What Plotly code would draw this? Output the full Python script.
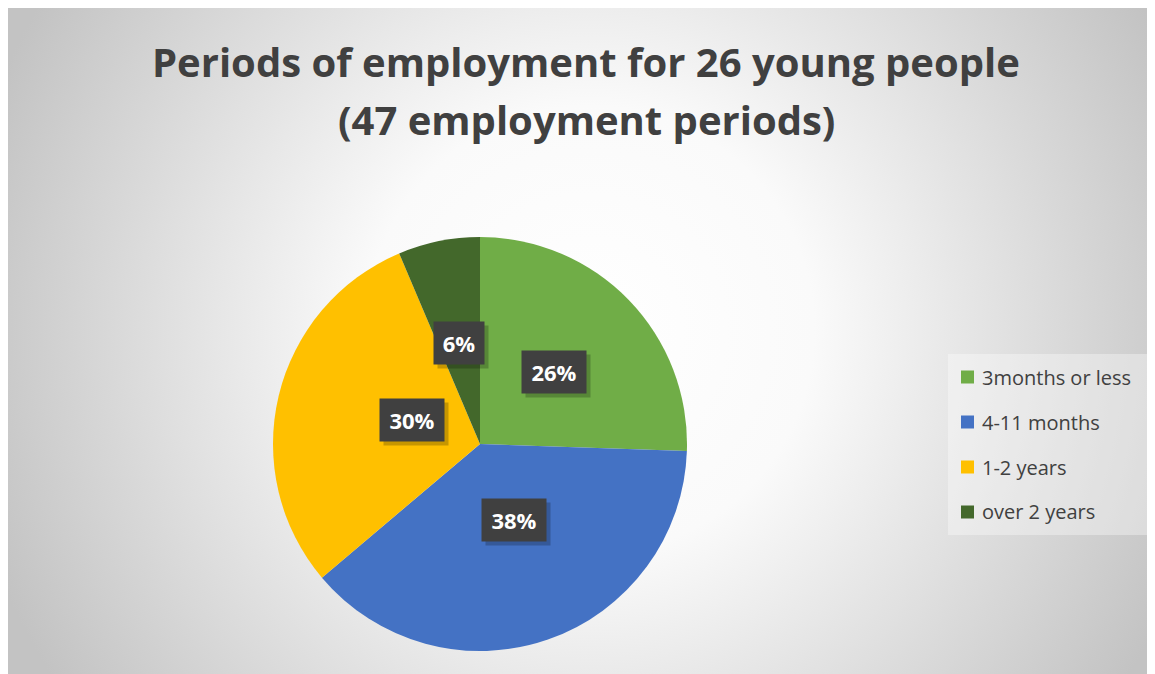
import math
import base64
import plotly.graph_objects as go

# ---------------- data ----------------
categories = ["3months or less", "4-11 months", "1-2 years", "over 2 years"]
periods = [12, 18, 14, 3]          # 47 employment periods in total
colors = ["#70AD47", "#4472C4", "#FFC000", "#43682B"]
title_lines = ["Periods of employment for 26 young people", "(47 employment periods)"]

W, H = 1155, 674
OFF = 8  # page body margin offset

# pie geometry (screen pixels)
cx_px, cy_px, R_px = 480, 444, 207

def px(x):
    return (x - OFF) / W

def py(y):
    return 1 - (y - OFF) / H

fig = go.Figure()

fig.add_trace(go.Pie(
    labels=categories,
    values=periods,
    marker=dict(colors=colors, line=dict(width=0)),
    sort=False,
    direction="clockwise",
    rotation=0,
    textinfo="none",
    showlegend=False,
    domain=dict(x=[px(cx_px - R_px), px(cx_px + R_px)],
                y=[py(cy_px + R_px), py(cy_px - R_px)]),
))

# background radial gradient
svg = f'''<svg xmlns="http://www.w3.org/2000/svg" width="{W}" height="{H}" viewBox="0 0 {W} {H}">
<defs><radialGradient id="g" gradientUnits="userSpaceOnUse" cx="582" cy="322" r="640">
<stop offset="0" stop-color="#ffffff"/><stop offset="0.35" stop-color="#fafafa"/>
<stop offset="1" stop-color="#c3c3c3"/></radialGradient></defs>
<rect x="0" y="0" width="{W}" height="{H}" fill="url(#g)"/></svg>'''
src = "data:image/svg+xml;base64," + base64.b64encode(svg.encode()).decode()
fig.add_layout_image(dict(source=src, xref="paper", yref="paper",
                          x=0, y=1, sizex=1, sizey=1,
                          sizing="stretch", xanchor="left", yanchor="top", layer="below"))

annotations = []
shapes = []

# title
for i, line in enumerate(title_lines):
    annotations.append(dict(text=f"<b>{line}</b>", x=px(586), y=py(62 + i * 58),
                            xref="paper", yref="paper", showarrow=False,
                            font=dict(family="Open Sans", size=40, color="#404040"),
                            xanchor="center", yanchor="middle"))

# percentage labels with dark boxes
total = sum(periods)
cum = 0
for v in periods:
    mid = (cum + v / 2) / total * 2 * math.pi
    cum += v
    lx = cx_px + 0.5 * R_px * math.sin(mid)
    ly = cy_px - 0.5 * R_px * math.cos(mid)
    pct = f"{round(100 * v / total)}%"
    wbox = 48 if len(pct) == 3 else 34
    annotations.append(dict(text=" ", x=px(lx + 4), y=py(ly + 4), xref="paper", yref="paper",
                            showarrow=False, bgcolor="rgba(0,0,0,0.22)", width=wbox, height=26,
                            borderpad=8, font=dict(size=22)))
    annotations.append(dict(text=f"<b>{pct}</b>", x=px(lx), y=py(ly), xref="paper", yref="paper",
                            showarrow=False, bgcolor="#404040", width=wbox, height=26,
                            borderpad=8, font=dict(family="Open Sans", size=22, color="white")))

# legend box
shapes.append(dict(type="rect", xref="paper", yref="paper",
                   x0=px(948), x1=px(1147), y0=py(535), y1=py(354),
                   fillcolor="rgba(255,255,255,0.35)", line=dict(width=0), layer="below"))
for i, (cat, col) in enumerate(zip(categories, colors)):
    yc = 377 + i * 45
    shapes.append(dict(type="rect", xref="paper", yref="paper",
                       x0=px(961), x1=px(974), y0=py(yc + 6.5), y1=py(yc - 6.5),
                       fillcolor=col, line=dict(width=0)))
    annotations.append(dict(text=cat, x=px(980), y=py(yc), xref="paper", yref="paper",
                            showarrow=False, xanchor="left", yanchor="middle",
                            font=dict(family="Open Sans", size=20, color="#404040")))

fig.update_layout(
    width=W, height=H,
    margin=dict(l=0, r=0, t=0, b=0),
    paper_bgcolor="#c8c8c8",
    plot_bgcolor="rgba(0,0,0,0)",
    annotations=annotations,
    shapes=shapes,
)

fig.write_html("out.html")
